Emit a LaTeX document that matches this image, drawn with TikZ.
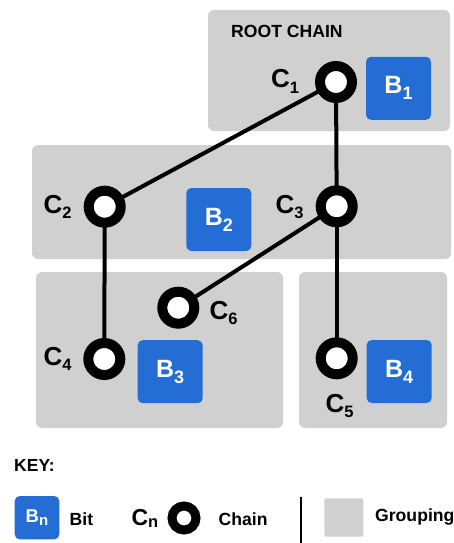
\documentclass[tikz,border=0pt]{standalone}
\usepackage{fontspec}
\setmainfont{Liberation Sans}
\definecolor{groupgray}{RGB}{208,208,208}
\definecolor{bitblue}{RGB}{35,109,212}
\newcommand{\clab}[1]{{\fontsize{26}{26}\selectfont C}\raisebox{-5.3pt}{\fontsize{16.5}{16.5}\selectfont #1}}
\newcommand{\blab}[1]{{\fontsize{25}{25}\selectfont B}\raisebox{-6pt}{\fontsize{18}{18}\selectfont #1}}
\begin{document}
\begin{tikzpicture}[x=1pt,y=-1pt,
  every node/.style={font=\bfseries},
  group/.style={fill=groupgray, rounded corners=6pt},
  ring/.style={circle, draw=black, fill=white, line width=10pt, minimum size=32pt, inner sep=0pt, outer sep=2pt},
  keyring/.style={circle, draw=black, fill=white, line width=9pt, minimum size=24pt, inner sep=0pt},
  bitbox/.style={fill=bitblue, rounded corners=5pt, minimum width=65pt, minimum height=63pt, text=white, inner sep=0pt},
  lbl/.style={anchor=base west, inner sep=0pt},
  conn/.style={line width=4pt, draw=black},
  keytext/.style={anchor=base west, inner sep=0pt, font=\bfseries\fontsize{17.6}{17.6}\selectfont}
]
\useasboundingbox (0,0) rectangle (454,543);
% groupings
\fill[group] (208,10) rectangle (450,131);
\fill[group] (32,145) rectangle (451,259);
\fill[group] (36,272) rectangle (283,428);
\fill[group] (299,272) rectangle (447,428);
\node[lbl, font=\bfseries\fontsize{17.6}{17.6}\selectfont] (root) at (231,37.3) {ROOT CHAIN};
% bits
\node[bitbox] (b1) at (398.5,88.3) {\blab{1}};
\node[bitbox] (b2) at (218.8,219.5) {\blab{2}};
\node[bitbox] (b3) at (170.2,371.7) {\blab{3}};
\node[bitbox] (b4) at (399.2,371.5) {\blab{4}};
% chains
\node[ring] (c1) at (336,82) {};
\node[ring] (c2) at (104.7,206.7) {};
\node[ring] (c3) at (336.7,206.3) {};
\node[ring] (c4) at (104.3,359) {};
\node[ring] (c5) at (336.7,358.3) {};
\node[ring] (c6) at (178.3,307.7) {};
\draw[conn] (c1) -- (c2);
\draw[conn] (c1) -- (c3);
\draw[conn] (c3) -- (c5);
\draw[conn] (c2) -- (c4);
\draw[conn] (c3) -- (c6);
% chain labels
\node[lbl] (l1) at (271,88) {\clab{1}};
\node[lbl] (l2) at (43.5,213) {\clab{2}};
\node[lbl] (l3) at (275.5,213) {\clab{3}};
\node[lbl] (l4) at (43.5,365) {\clab{4}};
\node[lbl] (l5) at (325.5,412) {\clab{5}};
\node[lbl] (l6) at (209.5,319) {\clab{6}};
% key
\node[lbl, font=\bfseries\fontsize{17.5}{17.5}\selectfont] (key) at (14,471) {KEY:};
\node[bitbox, minimum width=44.6pt, minimum height=43.3pt] (kb) at (37,517.7) {{\fontsize{18.5}{18.5}\selectfont B}\raisebox{-3.3pt}{\fontsize{15}{15}\selectfont n}};
\node[keytext] (kbit) at (69.5,525) {Bit};
\node[lbl] (kc) at (131.3,525) {{\fontsize{23}{23}\selectfont C}\raisebox{-2.7pt}{\fontsize{16.5}{16.5}\selectfont n}};
\node[keyring] (kr) at (184,518) {};
\node[keytext] (kchain) at (218.5,525) {Chain};
\draw[line width=2.8pt] (301,497.3) -- (301,543);
\fill[groupgray, rounded corners=2pt] (324.3,498.3) rectangle (363.3,536.7);
\node[keytext] (kgroup) at (375,521.7) {Grouping};
\end{tikzpicture}
\end{document}
